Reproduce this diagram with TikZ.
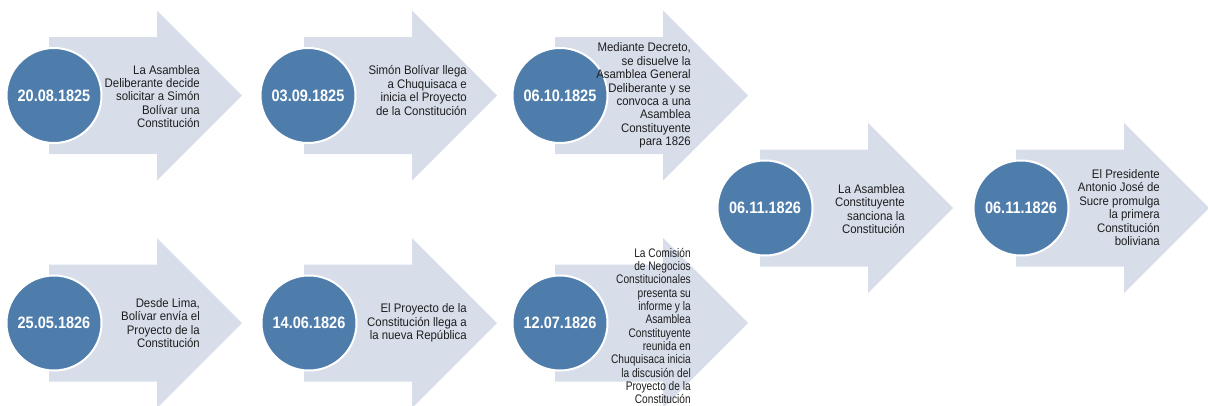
\documentclass[tikz,border=0pt]{standalone}
\usepackage{fontspec}
\setmainfont{Liberation Sans}[FakeStretch=0.92]
\newfontfamily\datefont{Liberation Sans}[FakeStretch=0.88]
\newfontfamily\narrowfont{Liberation Sans}[FakeStretch=0.82]
\definecolor{arrowfill}{HTML}{D7DEEA}
\definecolor{circfill}{HTML}{4E7DAC}
\definecolor{txtcol}{HTML}{1E1E1E}
\tikzset{
  tlarrow/.pic={\fill[arrowfill] (0,-58.5) -- (108,-58.5) -- (108,-85) -- (193,0) -- (108,85) -- (108,58.5) -- (0,58.5) -- cycle;},
  datecirc/.style={circle, fill=circfill, draw=white, line width=2pt, minimum size=95pt, inner sep=0pt, text=white, font=\datefont\bfseries\fontsize{16.5}{18}\selectfont},
  desc/.style={anchor=east, align=right, inner sep=0pt, text=txtcol, font=\fontsize{12.4}{13.4}\selectfont},
  narrowdesc/.style={desc, font=\narrowfont\fontsize{12.4}{13.3}\selectfont},
}
\begin{document}
\begin{tikzpicture}[x=1pt,y=-1pt]
\useasboundingbox (0,0) rectangle (1208,405);
% arrows
\pic at (49,95.5) {tlarrow};
\pic at (304,95.5) {tlarrow};
\pic at (555,95.5) {tlarrow};
\pic at (760,208) {tlarrow};
\pic at (1016,208) {tlarrow};
\pic at (49,323) {tlarrow};
\pic at (304,323) {tlarrow};
\pic at (555,323) {tlarrow};
% circles
\node[datecirc] (c1) at (54,95.5) {20.08.1825};
\node[datecirc] (c2) at (308,95.5) {03.09.1825};
\node[datecirc] (c3) at (560,95.5) {06.10.1825};
\node[datecirc] (c4) at (765,208) {06.11.1826};
\node[datecirc] (c5) at (1021,208) {06.11.1826};
\node[datecirc] (c6) at (54,323) {25.05.1826};
\node[datecirc] (c7) at (309,323) {14.06.1826};
\node[datecirc] (c8) at (560,323) {12.07.1826};
% descriptions
\node[desc] (t1) at (200,96.5) {La Asamblea\\Deliberante decide\\solicitar a Simón\\Bolívar una\\Constitución};
\node[desc] (t2) at (467,90.5) {Simón Bolívar llega\\a Chuquisaca e\\inicia el Proyecto\\de la Constitución};
\node[desc] (t3) at (691,95.5) {Mediante Decreto,\\se disuelve la\\Asamblea General\\Deliberante y se\\convoca a una\\Asamblea\\Constituyente\\para 1826};
\node[desc] (t4) at (905,209) {La Asamblea\\Constituyente\\sanciona la\\Constitución};
\node[desc] (t5) at (1160,207.5) {El Presidente\\Antonio José de\\Sucre promulga\\la primera\\Constitución\\boliviana};
\node[desc] (t6) at (200,323) {Desde Lima,\\Bolívar envía el\\Proyecto de la\\Constitución};
\node[desc] (t7) at (467,323) {El Proyecto de la\\Constitución llega a\\la nueva República};
\node[narrowdesc] (t8) at (691,326) {La Comisión\\de Negocios\\Constitucionales\\presenta su\\informe y la\\Asamblea\\Constituyente\\reunida en\\Chuquisaca inicia\\la discusión del\\Proyecto de la\\Constitución};
\end{tikzpicture}
\end{document}
